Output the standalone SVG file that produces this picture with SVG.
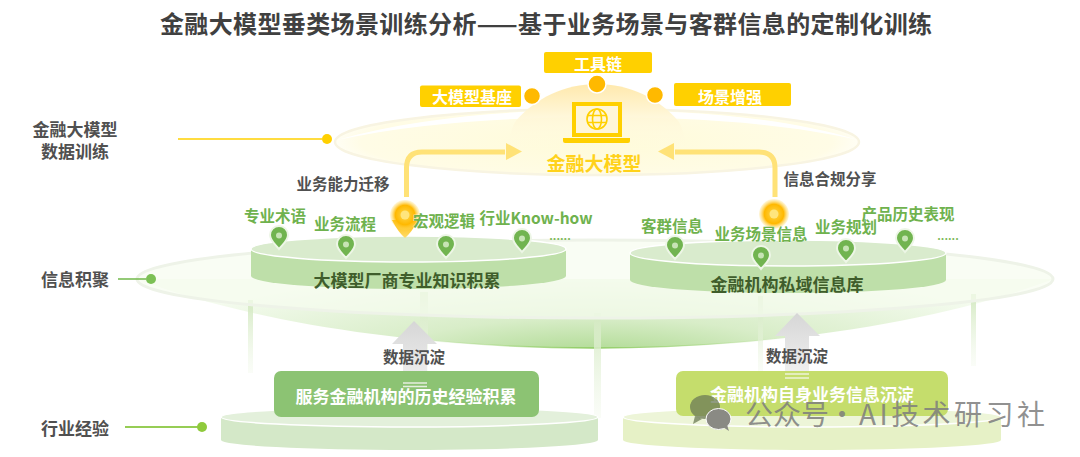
<svg xmlns="http://www.w3.org/2000/svg" width="1080" height="457" viewBox="0 0 1080 457">
<style>
text{font-family:"Noto Sans CJK SC","Noto Sans",sans-serif;font-weight:700;text-anchor:middle;dominant-baseline:central}
.side{font-size:17px;fill:#505050}
.cap{font-size:15.5px;fill:#505050}
.tag{font-size:15.5px;fill:#6fb24e;stroke:#fff;stroke-width:.4;paint-order:stroke}
.gold{font-size:16px;fill:#fff}
.plat{font-size:17px;fill:#3f5d2b}
.box{font-size:17px;fill:#fff}
.ybox{fill:#ffd000}
.ydot{fill:#ffb900;stroke:#fff;stroke-width:1.5}
.wire{fill:none;stroke:#ffe277;stroke-width:5}
.head{fill:#ffe277}
.bar{fill:url(#fade)}
.body{fill:#bedfa9}
.top{fill:#d9ebcd;stroke:#fff;stroke-width:1.5}
.body2{fill:#d4e8c8}
.top2{fill:#e3f0db;stroke:#fff;stroke-width:1.5}
.body3{fill:#e6f1c6}
.top3{fill:#edf5d8;stroke:#fff;stroke-width:1.5}
.pin{fill:#71b450;stroke:#edf6e6;stroke-width:2}
.pinc{fill:#c7e4b5}
.dots{font-size:11px;fill:#7cb95a}
.mark{font-size:28px;font-weight:400;fill:#7d7d7d;fill-opacity:.85}
</style>
<defs>
<linearGradient id="fade" x1="0" y1="0" x2="0" y2="1"><stop offset="0" stop-color="#d3e9c1"/><stop offset="1" stop-color="#f1f8ea" stop-opacity=".35"/></linearGradient>
<linearGradient id="dome" gradientUnits="userSpaceOnUse" x1="0" y1="84" x2="0" y2="150"><stop offset="0" stop-color="#ffe9ad"/><stop offset=".45" stop-color="#fff6d6"/><stop offset="1" stop-color="#fffbe2" stop-opacity="0"/></linearGradient>
<radialGradient id="topEll" cx="597" cy="142" r="262" gradientUnits="userSpaceOnUse" gradientTransform="translate(0 120) scale(1 .155)"><stop offset="0" stop-color="#fffbd9"/><stop offset=".9" stop-color="#fffce6"/><stop offset="1" stop-color="#fffef4"/></radialGradient>
<radialGradient id="bowl" cx="595" cy="360" r="470" gradientUnits="userSpaceOnUse" gradientTransform="translate(0 288) scale(1 .2)"><stop offset="0" stop-color="#a8d78a"/><stop offset=".45" stop-color="#d8edc8"/><stop offset="1" stop-color="#f4fbee"/></radialGradient>
<linearGradient id="rim" x1="0" y1="0" x2="1" y2="0"><stop offset=".15" stop-color="#a5d67f" stop-opacity="0"/><stop offset=".5" stop-color="#8fcc62"/><stop offset=".85" stop-color="#a5d67f" stop-opacity="0"/></linearGradient>
<linearGradient id="up" x1="0" y1="0" x2="0" y2="1"><stop offset="0" stop-color="#d6d6d6"/><stop offset="1" stop-color="#f0f0f0"/></linearGradient>
<linearGradient id="tail" x1="0" y1="0" x2="0" y2="1"><stop offset="0" stop-color="#ffb900"/><stop offset="1" stop-color="#ffdc6a"/></linearGradient>
<radialGradient id="glow"><stop offset="0" stop-color="#ffd84d"/><stop offset=".65" stop-color="#ffb800"/><stop offset="1" stop-color="#ffd85a" stop-opacity=".2"/></radialGradient>
<g id="gp"><path class="pin" d="M0,11 C-3,7 -9,3 -9,-3 A9,9 0 0 1 9,-3 C9,3 3,7 0,11Z"/><circle class="pinc" cy="-2.5" r="3"/></g>
</defs>

<g id="backdrop">
<path d="M137,279 C240,318 400,348 595,348 C790,348 950,318 1054,279Z" fill="url(#bowl)"/>
<path d="M330,327 C400,340 500,348 595,348 C690,348 790,340 860,327" fill="none" stroke="url(#rim)" stroke-width="1.5"/>
<rect class="bar" x="248" y="300" width="5" height="73"/>
<rect class="bar" x="420" y="292" width="8" height="80"/>
<rect class="bar" x="594" y="313" width="7" height="105"/>
<rect class="bar" x="758" y="296" width="5" height="76"/>
<rect class="bar" x="971" y="294" width="5" height="72"/>
<ellipse cx="595" cy="279" rx="458" ry="39" fill="#f6fcef" fill-opacity=".7" stroke="#eef3e8" stroke-width="3"/>
</g>

<g id="node-model">
<ellipse cx="597" cy="142" rx="262" ry="33" fill="url(#topEll)" stroke="#f8f4e2" stroke-width="2.500"/>
<path d="M337,140 C420,116 520,110 597,110 C680,110 780,116 858,140 C780,122 680,117 597,117 C520,117 420,122 337,140Z" fill="#fff"/>
<path d="M515,122 C535,98 565,84 597,84 C629,84 659,98 679,122 C684,132 686,142 686,150 L508,150 C508,142 510,132 515,122Z" fill="url(#dome)"/>
<rect x="574" y="104" width="46" height="31" fill="#fff6d8" stroke="#ffd000" stroke-width="4"/>
<path d="M563,138 H630 V141 Q630,143 628,143 H565 Q563,143 563,141Z" fill="#ffd000"/>
<g fill="none" stroke="#ffd000" stroke-width="1.6"><circle cx="597" cy="119" r="10"/><ellipse cx="597" cy="119" rx="4.5" ry="10"/><path d="M587,115.500 H607 M587,122.500 H607"/></g>
<text x="594" y="162" font-size="19" fill="#ffd21a">金融大模型</text>
</g>

<g id="node-toolchain"><rect class="ybox" x="544" y="52" width="108" height="21" rx="2"/><text class="gold" x="598" y="62.500">工具链</text><circle class="ydot" cx="597" cy="84" r="9"/></g>
<g id="node-base"><rect class="ybox" x="420" y="85.500" width="101" height="21.500" rx="2"/><text class="gold" x="472" y="96">大模型基座</text><circle class="ydot" cx="532" cy="96" r="8.500"/></g>
<g id="node-scene"><rect class="ybox" x="674" y="83" width="117" height="23" rx="2"/><text class="gold" x="730" y="96">场景增强</text><circle class="ydot" cx="655" cy="95" r="8.500"/></g>

<g id="node-left-store">
<path class="body" d="M251,249 V276 A157.500,13 0 0 0 566,276 V249Z"/>
<ellipse class="top" cx="408.500" cy="249" rx="157.500" ry="13"/>
<text class="plat" x="407" y="279">大模型厂商专业知识积累</text>
</g>
<g id="node-right-store">
<path class="body" d="M630,253 V280 A158,13 0 0 0 946,280 V253Z"/>
<ellipse class="top" cx="788" cy="253" rx="158" ry="13"/>
<text class="plat" x="787" y="283">金融机构私域信息库</text>
</g>

<g id="connectors">
<path class="wire" d="M406.500,197 V168 Q406.500,152 422,152 H505"/>
<path class="head" d="M506,143 L522,151.500 L506,160Z"/>
<path class="wire" d="M775,197 V168 Q775,152 759,152 H675"/>
<path class="head" d="M674,143 L658,151.500 L674,160Z"/>
<path d="M178,139 H322" fill="none" stroke="#ffd000" stroke-width="1.500"/>
<circle cx="327" cy="139" r="5" fill="#ffd000"/>
<path d="M118,279 H146" fill="none" stroke="#70b84a" stroke-width="1.500"/>
<circle cx="151" cy="279" r="5" fill="#7cc055"/>
<path d="M125,427 H198" fill="none" stroke="#96cd55" stroke-width="2"/>
<circle cx="202" cy="427" r="5" fill="#8fca3c"/>
<path d="M414,321 L437,344 H427 V383 H403 V344 H392Z" fill="url(#up)"/>
<path d="M797,313 L820,336 H809 V373 H785 V336 H775Z" fill="url(#up)"/>
</g>

<g id="labels">
<text class="side" x="75" y="128">金融大模型</text><text class="side" x="75" y="150">数据训练</text>
<text class="side" x="75" y="278">信息积聚</text><text class="side" x="75" y="427">行业经验</text>
<text class="cap" x="343" y="183">业务能力迁移</text><text class="cap" x="830" y="178">信息合规分享</text>
<text class="cap" x="414" y="356">数据沉淀</text><text class="cap" x="797" y="355">数据沉淀</text>
</g>

<g id="pin-gold-left"><path d="M392,220 Q398,232 405,238 Q412,232 418,220Z" fill="url(#tail)"/><circle cx="405" cy="215" r="15" fill="url(#glow)"/><circle cx="405" cy="215" r="4.500" fill="#ffe57d"/></g>
<g id="pin-gold-right"><circle cx="774" cy="214" r="15" fill="url(#glow)"/><circle cx="774" cy="214" r="4.500" fill="#ffe57d"/></g>

<g id="pins">
<use href="#gp" x="279" y="238"/><use href="#gp" x="346" y="247"/><use href="#gp" x="446" y="247"/><use href="#gp" x="522" y="241"/>
<use href="#gp" x="675" y="248"/><use href="#gp" x="761" y="258"/><use href="#gp" x="846" y="251"/><use href="#gp" x="905" y="241"/>
</g>
<g id="tags">
<text class="tag" x="275" y="215">专业术语</text><text class="tag" x="345" y="223">业务流程</text><text class="tag" x="444" y="220">宏观逻辑</text><text class="tag" x="536" y="217">行业Know-how</text>
<text class="dots" x="560" y="235">......</text>
<text class="tag" x="672" y="225">客群信息</text><text class="tag" x="761" y="233">业务场景信息</text><text class="tag" x="846" y="226">业务规划</text><text class="tag" x="908" y="213">产品历史表现</text>
<text class="dots" x="948" y="235">......</text>
</g>

<g id="node-history">
<path class="body2" d="M221,417 V440 A188.500,10 0 0 0 598,440 V417Z"/>
<ellipse class="top2" cx="409.500" cy="417" rx="188.500" ry="10"/>
<rect x="274" y="371" width="265" height="46" rx="7" fill="#8cc373"/>
<path d="M403,383 H427 M403,386.500 H427" stroke="#e5eee0" stroke-width="1.500" fill="none"/>
<text class="box" x="406" y="395">服务金融机构的历史经验积累</text>
</g>
<g id="node-own">
<path class="body3" d="M623,417 V440 A189,10 0 0 0 1001,440 V417Z"/>
<ellipse class="top3" cx="812" cy="417" rx="189" ry="10"/>
<rect x="676" y="371" width="272" height="45" rx="7" fill="#c5dd6c"/>
<path d="M785,374 H809 M785,378 H809" stroke="#eef3d8" stroke-width="1.500" fill="none"/>
<text class="box" x="812" y="393">金融机构自身业务信息沉淀</text>
</g>

<g id="watermark">
<ellipse cx="705" cy="407" rx="15" ry="12" fill="#6b7a55" fill-opacity=".75"/>
<path d="M695,416 L693,424 L702,419Z" fill="#6b7a55" fill-opacity=".75"/>
<ellipse cx="718.500" cy="419" rx="12.500" ry="10.500" fill="#8a8a84" stroke="#fff" stroke-width="1"/>
<path d="M723,427 L729,431 L727,425Z" fill="#8a8a84"/>
<text class="mark" x="787" y="413">公众号</text>
<text class="mark" x="842" y="413">·</text>
<text class="mark" x="952" y="413" textLength="186" lengthAdjust="spacing">AI技术研习社</text>
</g>

<text id="title" x="546" y="22" font-size="24" fill="#404040" textLength="772" lengthAdjust="spacing">金融大模型垂类场景训练分析——基于业务场景与客群信息的定制化训练</text>
</svg>
